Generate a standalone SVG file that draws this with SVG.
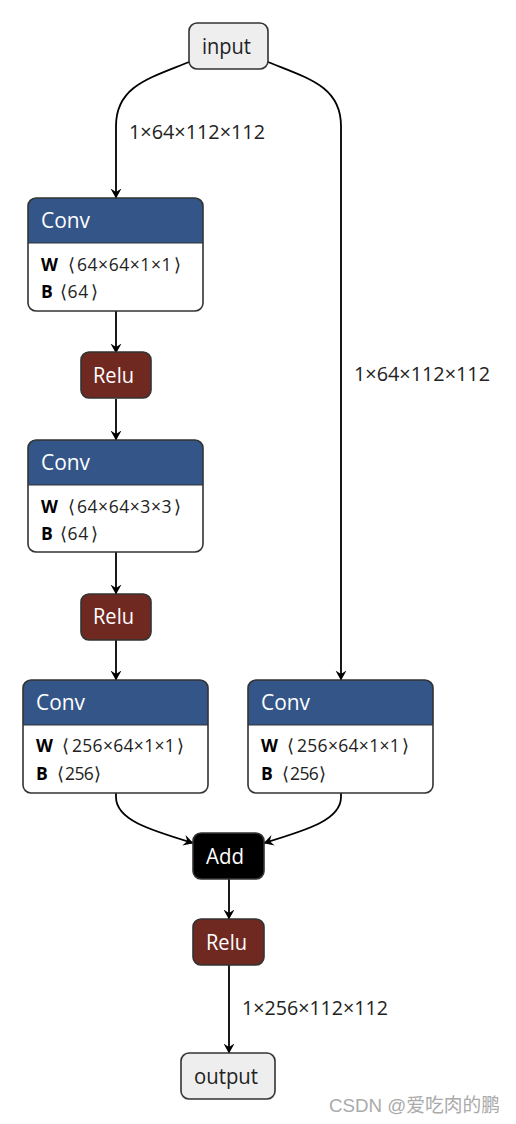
<svg xmlns="http://www.w3.org/2000/svg" width="516" height="1124" viewBox="0 0 516 1124">
<style>
text{font-family:"Open Sans","Noto Sans","DejaVu Sans",sans-serif;}
.box{stroke:#333;stroke-width:1.6;}
.io{fill:#eeeeee;}
.relu{fill:#702921;}
.add{fill:#000;}
.conv-body{fill:#fff;}
.conv-head{fill:#335588;}
.title{font-size:21.5px;fill:#fff;}
.iot{font-size:21px;fill:#222;}
.attr{font-size:17.5px;fill:#222;}
.br{font-family:"DejaVu Sans",sans-serif;font-size:18px;font-weight:300;}
.k{font-weight:bold;fill:#000;}
.lbl{font-size:19.5px;fill:#222;}
.edge{fill:none;stroke:#000;stroke-width:1.8;}
.wm{font-family:"Liberation Sans","Noto Sans CJK SC",sans-serif;font-size:19px;fill:#aaa;}
</style>
<defs>
<marker id="arr" viewBox="0 0 10 12" refX="9.5" refY="6" markerWidth="10" markerHeight="12" markerUnits="userSpaceOnUse" orient="auto">
<path d="M0,0.5 L10,6 L0,11.5 L3.5,6 z" fill="#000"/>
</marker>
<clipPath id="c1"><rect x="28" y="198" width="175" height="113" rx="8"/></clipPath>
<clipPath id="c2"><rect x="28" y="440" width="175" height="112" rx="8"/></clipPath>
<clipPath id="c3"><rect x="23" y="680" width="185" height="113" rx="8"/></clipPath>
<clipPath id="c4"><rect x="248" y="680" width="185" height="113" rx="8"/></clipPath>
</defs>
<rect width="516" height="1124" fill="#fff"/>

<g id="edges">
<path class="edge" marker-end="url(#arr)" d="M189,62 C150,78 116,86 116,126 L116,198"/>
<path class="edge" marker-end="url(#arr)" d="M268,62 C307,78 341,86 341,126 L341,680"/>
<path class="edge" marker-end="url(#arr)" d="M116,311 L116,353"/>
<path class="edge" marker-end="url(#arr)" d="M116,399 L116,440"/>
<path class="edge" marker-end="url(#arr)" d="M116,552 L116,594"/>
<path class="edge" marker-end="url(#arr)" d="M116,640 L116,680"/>
<path class="edge" marker-end="url(#arr)" d="M116,793 L116,797 C116,820 150,830 193,843"/>
<path class="edge" marker-end="url(#arr)" d="M341,793 L341,797 C341,820 307,830 264,843"/>
<path class="edge" marker-end="url(#arr)" d="M229,879 L229,919"/>
<path class="edge" marker-end="url(#arr)" d="M229,965 L229,1053"/>
<text class="lbl" x="129" y="139" textLength="136" lengthAdjust="spacingAndGlyphs">1×64×112×112</text>
<text class="lbl" x="354" y="381" textLength="136" lengthAdjust="spacingAndGlyphs">1×64×112×112</text>
<text class="lbl" x="242" y="1015" textLength="146" lengthAdjust="spacingAndGlyphs">1×256×112×112</text>
</g>

<g id="input">
<rect class="box io" x="189" y="23" width="79" height="46" rx="8"/>
<text class="iot" x="202" y="54" textLength="49" lengthAdjust="spacingAndGlyphs">input</text>
</g>

<g id="conv1">
<g clip-path="url(#c1)">
<rect class="conv-body" x="28" y="198" width="175" height="113"/>
<rect class="conv-head" x="28" y="198" width="175" height="45"/>
</g>
<line x1="28" y1="243" x2="203" y2="243" stroke="#333" stroke-width="1.2"/>
<rect class="box" fill="none" x="28" y="198" width="175" height="113" rx="8"/>
<text class="title" x="41" y="228" textLength="49" lengthAdjust="spacingAndGlyphs">Conv</text>
<text class="attr" y="271"><tspan class="k" x="41">W</tspan><tspan class="br" x="68">⟨</tspan><tspan x="77" letter-spacing="0.55">64×64×1×1</tspan><tspan class="br" x="174">⟩</tspan></text>
<text class="attr" y="298"><tspan class="k" x="41">B</tspan><tspan class="br" x="60">⟨</tspan><tspan x="67.5" letter-spacing="0.7">64</tspan><tspan class="br" x="91">⟩</tspan></text>
</g>

<g id="relu1">
<rect class="box relu" x="81" y="352" width="70" height="46" rx="8"/>
<text class="title" x="93" y="383" textLength="41" lengthAdjust="spacingAndGlyphs">Relu</text>
</g>

<g id="conv2">
<g clip-path="url(#c2)">
<rect class="conv-body" x="28" y="440" width="175" height="112"/>
<rect class="conv-head" x="28" y="440" width="175" height="45"/>
</g>
<line x1="28" y1="485" x2="203" y2="485" stroke="#333" stroke-width="1.2"/>
<rect class="box" fill="none" x="28" y="440" width="175" height="112" rx="8"/>
<text class="title" x="41" y="470" textLength="49" lengthAdjust="spacingAndGlyphs">Conv</text>
<text class="attr" y="513"><tspan class="k" x="41">W</tspan><tspan class="br" x="68">⟨</tspan><tspan x="77" letter-spacing="0.55">64×64×3×3</tspan><tspan class="br" x="174">⟩</tspan></text>
<text class="attr" y="540"><tspan class="k" x="41">B</tspan><tspan class="br" x="60">⟨</tspan><tspan x="67.5" letter-spacing="0.7">64</tspan><tspan class="br" x="91">⟩</tspan></text>
</g>

<g id="relu2">
<rect class="box relu" x="81" y="594" width="70" height="46" rx="8"/>
<text class="title" x="93" y="624" textLength="41" lengthAdjust="spacingAndGlyphs">Relu</text>
</g>

<g id="conv3">
<g clip-path="url(#c3)">
<rect class="conv-body" x="23" y="680" width="185" height="113"/>
<rect class="conv-head" x="23" y="680" width="185" height="45"/>
</g>
<line x1="23" y1="725" x2="208" y2="725" stroke="#333" stroke-width="1.2"/>
<rect class="box" fill="none" x="23" y="680" width="185" height="113" rx="8"/>
<text class="title" x="36" y="710" textLength="49" lengthAdjust="spacingAndGlyphs">Conv</text>
<text class="attr" y="752"><tspan class="k" x="36">W</tspan><tspan class="br" x="62">⟨</tspan><tspan x="72" letter-spacing="0.3">256×64×1×1</tspan><tspan class="br" x="177">⟩</tspan></text>
<text class="attr" y="780"><tspan class="k" x="36">B</tspan><tspan class="br" x="57">⟨</tspan><tspan x="65" letter-spacing="-0.6">256</tspan><tspan class="br" x="94">⟩</tspan></text>
</g>

<g id="conv4">
<g clip-path="url(#c4)">
<rect class="conv-body" x="248" y="680" width="185" height="113"/>
<rect class="conv-head" x="248" y="680" width="185" height="45"/>
</g>
<line x1="248" y1="725" x2="433" y2="725" stroke="#333" stroke-width="1.2"/>
<rect class="box" fill="none" x="248" y="680" width="185" height="113" rx="8"/>
<text class="title" x="261" y="710" textLength="49" lengthAdjust="spacingAndGlyphs">Conv</text>
<text class="attr" y="752"><tspan class="k" x="261">W</tspan><tspan class="br" x="287">⟨</tspan><tspan x="297" letter-spacing="0.3">256×64×1×1</tspan><tspan class="br" x="402">⟩</tspan></text>
<text class="attr" y="780"><tspan class="k" x="261">B</tspan><tspan class="br" x="282">⟨</tspan><tspan x="290" letter-spacing="-0.6">256</tspan><tspan class="br" x="319">⟩</tspan></text>
</g>

<g id="add">
<rect class="box add" x="193" y="833" width="71" height="46" rx="8"/>
<text class="title" x="206" y="864" textLength="38" lengthAdjust="spacingAndGlyphs">Add</text>
</g>

<g id="relu3">
<rect class="box relu" x="193" y="919" width="71" height="46" rx="8"/>
<text class="title" x="206" y="950" textLength="41" lengthAdjust="spacingAndGlyphs">Relu</text>
</g>

<g id="output">
<rect class="box io" x="181" y="1053" width="94" height="46" rx="8"/>
<text class="iot" x="194" y="1084" textLength="64" lengthAdjust="spacingAndGlyphs">output</text>
</g>

<text class="wm" x="329" y="1112" textLength="171" lengthAdjust="spacingAndGlyphs">CSDN @爱吃肉的鹏</text>
</svg>
